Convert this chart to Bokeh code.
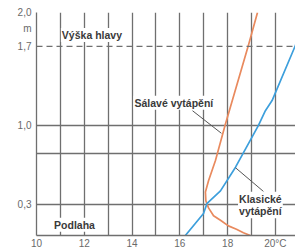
from bokeh.plotting import figure
from bokeh.models import Range1d, FixedTicker, CustomJSTickFormatter, Span, ColumnDataSource
from bokeh.core.properties import value
from bokeh.embed import file_html
from bokeh.resources import INLINE

# ---- data ----
# Sálavé vytápění (radiant heating): temperature (°C) vs height (m)
radiant_temp = [19.25, 18.87, 17.89, 17.49, 17.20, 17.07, 17.09, 17.20, 17.41, 17.70, 18.03, 18.37, 18.66, 18.95]
radiant_h    = [2.00, 1.71, 1.00, 0.69, 0.51, 0.41, 0.33, 0.27, 0.20, 0.16, 0.11, 0.08, 0.05, 0.025]
# Klasické vytápění (conventional heating)
classic_temp = [16.23, 16.99, 17.14, 17.70, 18.33, 19.29, 19.58, 19.86, 20.84, 20.95]
classic_h    = [0.025, 0.22, 0.31, 0.42, 0.63, 1.00, 1.13, 1.22, 1.71, 1.78]

head_height = 1.7
x_ticks = [10, 12, 14, 16, 18, 20]
x_grid = [11, 12, 13, 14, 15, 16, 17, 18, 19, 20]
y_ticks = [0.3, 1.0, 1.7, 2.0]
y_unit_pos = 1.86
y_grid = [0.3, 0.75, 1.0, 2.0]

label_text = ["Výška hlavy", "Podlaha", "Sálavé vytápění", "Klasické", "vytápění"]
label_x = [12.32, 11.59, 15.75, 19.37, 19.37]
label_y = [1.80, 0.12, 1.20, 0.35, 0.24]

leader_x0 = [16.53, 18.33]
leader_y0 = [1.13, 0.625]
leader_x1 = [17.74, 19.50]
leader_y1 = [0.93, 0.415]

GRID = "#6f6f6f"
ORANGE = "#e98a5e"
BLUE = "#3d9fdc"
FONT = "Liberation Sans"

p = figure(width=295, height=251, output_backend="svg", toolbar_location=None,
           x_range=Range1d(10, 20.84), y_range=Range1d(0.025, 2.0),
           min_border_left=36, min_border_right=0, min_border_top=12, min_border_bottom=16)
p.outline_line_color = None
p.background_fill_color = "white"
p.border_fill_color = "white"

# grids
p.xgrid.ticker = FixedTicker(ticks=x_grid)
p.ygrid.ticker = FixedTicker(ticks=y_grid)
for g in (p.xgrid, p.ygrid):
    g.grid_line_color = GRID
    g.grid_line_width = 1.3
    g.grid_line_alpha = 1.0

# axes
p.xaxis.ticker = FixedTicker(ticks=x_ticks)
p.xaxis.formatter = CustomJSTickFormatter(code="return tick == 20 ? '20°C' : tick.toFixed(0);")
p.yaxis.ticker = FixedTicker(ticks=y_ticks + [y_unit_pos])
p.yaxis.formatter = CustomJSTickFormatter(
    code="if (Math.abs(tick - %s) < 1e-6) return 'm'; return tick.toFixed(1).replace('.', ',');" % y_unit_pos)
for ax in (p.xaxis, p.yaxis):
    ax.axis_line_color = GRID
    ax.axis_line_width = 1.3
    ax.major_tick_line_color = None
    ax.minor_tick_line_color = None
    ax.major_tick_out = 0
    ax.major_tick_in = 0
    ax.minor_tick_out = 0
    ax.minor_tick_in = 0
    ax.major_label_text_font = FONT
    ax.major_label_text_font_size = "10px"
    ax.major_label_text_color = "#6a6a6a"
p.xaxis.major_label_standoff = 2
p.yaxis.major_label_standoff = 5

# head height dashed line
p.add_layout(Span(location=head_height, dimension="width", line_color=GRID,
                  line_width=1.3, line_dash="6 4"))

# curves
p.line(radiant_temp, radiant_h, line_color=ORANGE, line_width=1.7, line_join="round")
p.line(classic_temp, classic_h, line_color=BLUE, line_width=1.7, line_join="round")

# leader lines
p.segment(x0=leader_x0, y0=leader_y0, x1=leader_x1, y1=leader_y1, line_color="#555555", line_width=1)

# labels
src = ColumnDataSource(dict(x=label_x, y=label_y, text=label_text))
p.text(x="x", y="y", text="text", source=src, text_align="center", text_baseline="middle",
       text_font=value(FONT), text_font_style="bold", text_font_size="10.5px", text_color="#3a3a3a",
       background_fill_color="white", padding=1)

open("out.html", "w").write(file_html(p, INLINE))
